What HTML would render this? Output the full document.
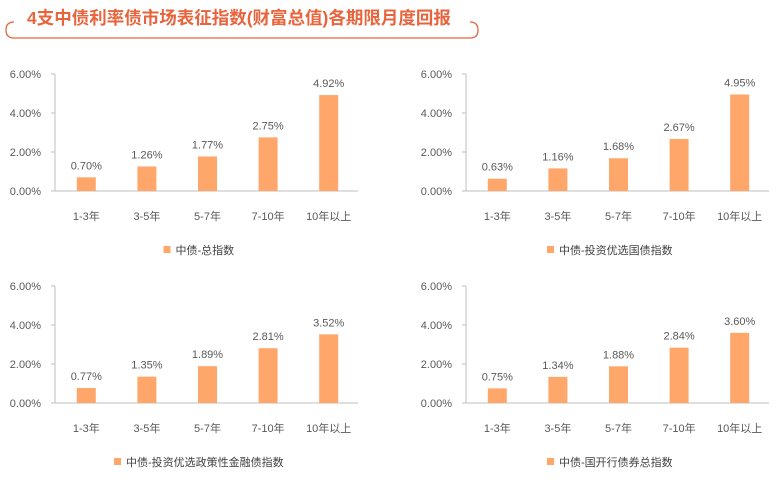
<!DOCTYPE html>
<html><head><meta charset="utf-8">
<style>
body{margin:0;background:#fff;width:779px;height:481px;overflow:hidden;font-family:"Liberation Sans","Noto Sans CJK SC",sans-serif;}
svg text{font-family:"Liberation Sans","Noto Sans CJK SC",sans-serif;}
</style></head><body>
<svg id="root" width="779" height="481" xmlns="http://www.w3.org/2000/svg">
  <g>
    <path d="M14,22 Q6,22 6,30 Q6,38 14,38 L470,38 Q478,38 478,30 Q478,22 470,22" fill="none" stroke="#e8643c" stroke-width="1.3"/>
    <rect x="20" y="14" width="440" height="16" fill="#fff"/>
    <text x="27" y="24" font-size="17.5" font-weight="bold" fill="#e8643c">4支中债利率债市场表征指数(财富总值)各期限月度回报</text>
  </g>
</svg>
<script>
const categories = ["1-3年","3-5年","5-7年","7-10年","10年以上"];
const yTicks = [0,2,4,6];
const yTickLabels = ["0.00%","2.00%","4.00%","6.00%"];
const seriesNames = ["中债-总指数","中债-投资优选国债指数","中债-投资优选政策性金融债指数","中债-国开行债券总指数"];
const series1 = [0.70,1.26,1.77,2.75,4.92];
const series2 = [0.63,1.16,1.68,2.67,4.95];
const series3 = [0.77,1.35,1.89,2.81,3.52];
const series4 = [0.75,1.34,1.88,2.84,3.60];
const allSeries = [series1,series2,series3,series4];
const NS="http://www.w3.org/2000/svg";
const root=document.getElementById('root');
const panels=[{dx:0,dy:0},{dx:411,dy:0},{dx:0,dy:212},{dx:411,dy:212}];
function mk(tag,attrs,parent){const e=document.createElementNS(NS,tag);for(const k in attrs)e.setAttribute(k,attrs[k]);parent.appendChild(e);return e;}
panels.forEach((p,i)=>{
  const g=mk('g',{},root);
  
  
  const x0=55+p.dx, x1=358+p.dx, yTop=74+p.dy, yBase=191+p.dy;
  const y=v=>yBase-(v/6)*(yBase-yTop);
  const band=(x1-x0)/categories.length;
  const xc=j=>x0+band*(j+0.5)+1;
  yTicks.forEach((t,k)=>{
    const tl=mk('text',{x:x0-14,y:y(t)+4,'font-size':11,fill:'#595959','text-anchor':'end'},g);
    tl.textContent=yTickLabels[k];
    
    
    const tk=mk('line',{x1:x0-4,x2:x0,y1:y(t),y2:y(t),stroke:'#bfbfbf'},g);
    
    
  });
  const ya=mk('line',{x1:x0,x2:x0,y1:yTop,y2:yBase,stroke:'#bfbfbf'},g);
  
  
  const xa=mk('line',{x1:x0,x2:x1,y1:yBase,y2:yBase,stroke:'#bfbfbf'},g);
  
  
  allSeries[i].forEach((v,j)=>{
    const b=mk('rect',{x:xc(j)-9.5,y:y(v),width:19,height:yBase-y(v),fill:'#ffa76a'},g);
    
    
    const vl=mk('text',{x:xc(j),y:y(v)-8,'font-size':11,fill:'#595959','text-anchor':'middle'},g);
    vl.textContent=v.toFixed(2)+'%';
    
    
    const cl=mk('text',{x:xc(j),y:yBase+29,'font-size':11,fill:'#595959','text-anchor':'middle'},g);
    cl.textContent=categories[j];
    
    
  });
  const lg=mk('g',{},g);
  
  
  const nm=seriesNames[i];
  const w=nm.length*11;
  const lx=(x0+x1)/2-w/2+2;
  mk('rect',{x:lx-12,y:yBase+55,width:7,height:7,fill:'#ffa76a'},lg);
  const lt=mk('text',{x:lx,y:yBase+63,'font-size':11,fill:'#404040'},lg);
  lt.textContent=nm;
});
</script>
</body></html>
